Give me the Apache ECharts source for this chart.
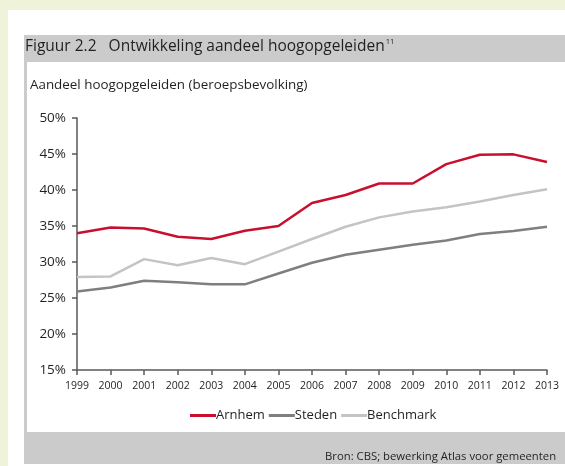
<!DOCTYPE html>
<html>
<head>
<meta charset="utf-8">
<script src="https://cdn.jsdelivr.net/npm/echarts@6/dist/echarts.min.js"></script>
<style>
  body { margin: 0; padding: 0; background: #eff3da; }
  #chart { width: 565px; height: 466px; }
</style>
</head>
<body>
<div id="chart"></div>
<script>
// jaren en aandelen (%)
const years = ['1999', '2000', '2001', '2002', '2003', '2004', '2005', '2006', '2007', '2008', '2009', '2010', '2011', '2012', '2013'];
const arnhem = [34.0, 34.8, 34.65, 33.5, 33.2, 34.35, 35.0, 38.2, 39.3, 40.9, 40.9, 43.6, 44.9, 44.95, 43.9];
const steden = [25.9, 26.45, 27.4, 27.2, 26.9, 26.9, 28.4, 29.9, 31.0, 31.7, 32.4, 33.0, 33.9, 34.3, 34.9];
const benchmark = [27.9, 28.0, 30.4, 29.55, 30.55, 29.7, 31.45, 33.2, 34.9, 36.2, 37.0, 37.6, 38.4, 39.3, 40.1];

const font = '"Open Sans", "Noto Sans", sans-serif';
const textColor = '#231f20';

const chart = echarts.init(document.getElementById('chart'));
chart.setOption({
  backgroundColor: '#eff3da',
  animation: false,
  textStyle: { fontFamily: font },
  graphic: [
    { type: 'rect', z: -10, shape: { x: 8, y: 10, width: 557, height: 456 }, style: { fill: '#ffffff' } },
    { type: 'rect', z: -9, shape: { x: 24, y: 35, width: 541, height: 27 }, style: { fill: '#cbcbcb' } },
    { type: 'rect', z: -9, shape: { x: 24, y: 35, width: 3, height: 429 }, style: { fill: '#cbcbcb' } },
    { type: 'rect', z: -9, shape: { x: 24, y: 432, width: 541, height: 32 }, style: { fill: '#cbcbcb' } },
    {
      type: 'text', left: 25, top: 38,
      style: {
        text: '{t|Figuur 2.2   Ontwikkeling aandeel hoogopgeleiden}{s|11}',
        rich: {
          t: { fontFamily: font, fontSize: 15.5, fill: textColor },
          s: { fontFamily: font, fontSize: 7.5, fill: textColor, verticalAlign: 'top', padding: [0, 0, 9, 1] }
        }
      }
    },
    {
      type: 'text', left: 30, top: 79,
      style: { text: 'Aandeel hoogopgeleiden (beroepsbevolking)', fontFamily: font, fontSize: 13.4, fill: textColor }
    },
    {
      type: 'text', left: 325, top: 451,
      style: { text: 'Bron: CBS; bewerking Atlas voor gemeenten', fontFamily: font, fontSize: 11.3, fill: textColor }
    }
  ],
  legend: {
    left: 190,
    top: 409,
    padding: 0,
    itemWidth: 26,
    itemHeight: 3,
    itemGap: 4,
    icon: 'rect',
    textStyle: { fontFamily: font, fontSize: 13, color: textColor, padding: [0, 0, 0, -5] },
    data: ['Arnhem', 'Steden', 'Benchmark']
  },
  grid: { left: 77, right: 18, top: 118, bottom: 96 },
  xAxis: {
    type: 'category',
    data: years,
    boundaryGap: false,
    axisLine: { lineStyle: { color: '#595959', width: 1.5 } },
    axisTick: { alignWithLabel: true, length: 5, lineStyle: { color: '#595959', width: 1.5 } },
    axisLabel: { fontFamily: font, fontSize: 10.5, color: textColor, margin: 11, interval: 0 }
  },
  yAxis: {
    type: 'value',
    min: 15,
    max: 50,
    interval: 5,
    axisLine: { show: true, lineStyle: { color: '#595959', width: 1.5 } },
    axisTick: { show: true, length: 5, lineStyle: { color: '#595959', width: 1.5 } },
    splitLine: { show: false },
    axisLabel: { fontFamily: font, fontSize: 13.5, color: textColor, margin: 11, formatter: '{value}%' }
  },
  series: [
    { name: 'Arnhem', type: 'line', data: arnhem, symbol: 'none', color: '#c8102e', lineStyle: { width: 2.5, color: '#c8102e' } },
    { name: 'Steden', type: 'line', data: steden, symbol: 'none', color: '#7f7f7f', lineStyle: { width: 2.5, color: '#7f7f7f' } },
    { name: 'Benchmark', type: 'line', data: benchmark, symbol: 'none', color: '#c4c4c4', lineStyle: { width: 2.5, color: '#c4c4c4' } }
  ]
});
</script>
</body>
</html>
